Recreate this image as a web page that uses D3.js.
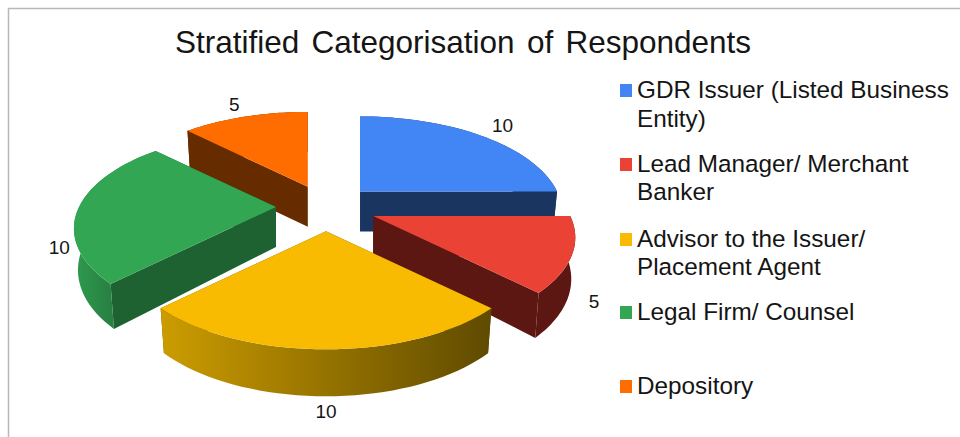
<!DOCTYPE html>
<html><head><meta charset="utf-8">
<script src="https://cdn.jsdelivr.net/npm/d3@7/dist/d3.min.js"></script>
<style>html,body{margin:0;padding:0;background:#fff}svg{display:block}text{font-family:"Liberation Sans",Arial,sans-serif;fill:#151515}</style>
</head><body><svg id="c" width="960" height="437"></svg>
<script>
const chartTitle = "Stratified Categorisation of Respondents";
const categories = ["GDR Issuer (Listed Business Entity)", "Lead Manager/ Merchant Banker", "Advisor to the Issuer/ Placement Agent", "Legal Firm/ Counsel", "Depository"];
const legendLines = [["GDR Issuer (Listed Business","Entity)"],["Lead Manager/ Merchant","Banker"],["Advisor to the Issuer/","Placement Agent"],["Legal Firm/ Counsel"],["Depository"]];
const values = [10, 5, 10, 10, 5];
const topColors = ["#4285f4", "#ea4335", "#f9bb02", "#32a653", "#ff6d00"];
const wallColors = ["#1a3560", "#5c1713", "#604b00", "#1e6232", "#662c00"];
const arcWallLeft = ["#1a3560", "#5c1713", "#cc9c00", "#2f9a4f", "#662c00"];
const arcWallRight = ["#1a3560", "#5c1713", "#5f4a00", "#1e6232", "#662c00"];
const paintOrder = [0, 4, 3, 1, 2];
const legendBaselines = [[98,127],[172,200],[247,275],[320],[394]];

const svg = d3.select("#c");
const defs = svg.append("defs");
const cx = 326, cy = 207, A = 197, B = 91.7, p = 0.223, explode = 0.25, taper = 0.98;
function project(t, r, a = A) {
  const u = r * Math.sin(t), v = -r * Math.cos(t), w = 1 - p * v;
  return [a * u / w, B * v / w];
}
function wallH(t, r) { return 40 + 7 * Math.max(0, -r * Math.cos(t)); }
const line = d3.line();
const pie = d3.pie().sort(null).value(d => d);
const arcs = pie(values);
const samples = (a, b) => d3.range(0, 41).map(i => a + (b - a) * i / 40);

svg.append("path").attr("d","M8.5,437V8.5H960").attr("fill","none").attr("stroke","#b8b8b8").attr("stroke-width",1.5);

paintOrder.forEach(i => {
  const d = arcs[i], mid = (d.startAngle + d.endAngle) / 2;
  const off = project(mid, explode, 200);
  const ax = cx + off[0], ay = cy + off[1];
  const top = (t) => { const q = project(t, 1); return [ax + q[0], ay + q[1]]; };
  const bot = (t) => { const q = project(t, 1); return [ax + q[0] * taper, ay + q[1] + wallH(t, 1)]; };
  const g = svg.append("g");
  const apexTop = [ax, ay], apexBot = [ax, ay + 40];
  [d.startAngle, d.endAngle].forEach(t => {
    g.append("path").attr("d", line([apexTop, top(t), bot(t), apexBot]) + "Z").attr("fill", wallColors[i]);
  });
  const ts = samples(d.startAngle, d.endAngle);
  const xs = ts.map(t => top(t)[0]);
  const gid = "w" + i;
  const gr = defs.append("linearGradient").attr("id", gid).attr("gradientUnits","userSpaceOnUse")
    .attr("x1", d3.min(xs)).attr("x2", d3.max(xs)).attr("y1",0).attr("y2",0);
  gr.append("stop").attr("offset",0).attr("stop-color",arcWallLeft[i]);
  gr.append("stop").attr("offset",1).attr("stop-color",arcWallRight[i]);
  g.append("path").attr("d", line(ts.map(top).concat(ts.slice().reverse().map(bot))) + "Z").attr("fill", `url(#${gid})`);
  g.append("path").attr("d", line([apexTop].concat(ts.map(top))) + "Z").attr("fill", topColors[i]);
  const front = -Math.cos(mid) > -0.01;
  const q = project(mid, front ? 1.1 : 1.22);
  svg.append("text").attr("x", ax + q[0]).attr("y", ay + q[1] + (front ? wallH(mid, 1) : 0))
    .attr("text-anchor","middle").attr("dominant-baseline","central").attr("font-size",19).text(values[i]);
});

svg.append("text").attr("x",463).attr("y",53).attr("text-anchor","middle").attr("font-size",31.5).attr("word-spacing",3.5).text(chartTitle);

categories.forEach((c, i) => {
  const b = legendBaselines[i];
  svg.append("rect").attr("x",620).attr("y",b[0]-14).attr("width",12).attr("height",13).attr("fill",topColors[i]);
  legendLines[i].forEach((l, j) => {
    svg.append("text").attr("x",637).attr("y",b[j]).attr("font-size",24.3).text(l);
  });
});
</script></body></html>
